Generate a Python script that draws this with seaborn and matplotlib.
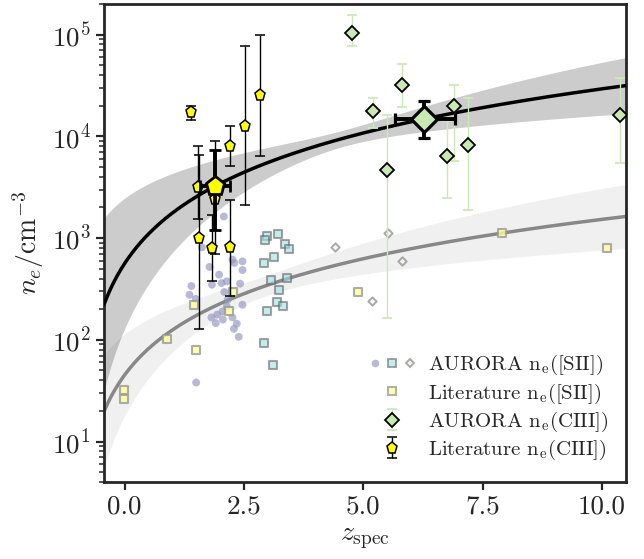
import numpy as np
import pandas as pd
import matplotlib
matplotlib.use("Agg")
import matplotlib.pyplot as plt
import matplotlib.ticker as mticker
import seaborn as sns
from matplotlib.lines import Line2D
from matplotlib.legend_handler import HandlerTuple

# ---------------- data ----------------
# AURORA [SII] densities (three sub-samples, different markers)
sii_circ_z = [2.08, 1.62, 2.26, 2.30, 2.47, 1.78, 2.47, 1.98, 2.03, 2.14, 1.83, 2.42, 1.40, 1.36, 2.09,
              1.49, 2.16, 2.47, 2.14, 2.05, 1.94, 1.82, 2.06, 2.26, 1.91, 2.35, 2.29, 2.39, 1.50]
sii_circ_ne = [1630, 811, 614, 569, 590, 520, 485, 437, 361, 375, 348, 356, 338, 277, 295,
               252, 248, 221, 213, 190, 177, 166, 158, 166, 146, 144, 128, 107, 38]
sii_sq_z = [2.98, 2.95, 3.22, 3.35, 3.44, 3.14, 2.91, 3.07, 3.40, 3.23, 3.19, 3.32, 2.98, 2.91, 3.10]
sii_sq_ne = [1057, 965, 1105, 881, 787, 656, 573, 390, 402, 306, 236, 216, 193, 94, 56]
sii_dia_z = [4.40, 5.51, 5.81, 5.18]
sii_dia_ne = [811, 1122, 600, 239]

# Literature [SII]
lit_sii_z = [2.28, 2.19, 1.46, 0.88, 1.49, -0.02, -0.02, 4.89, 7.90, 10.10]
lit_sii_ne = [295, 190, 221, 102, 80, 32, 26, 295, 1122, 800]

# AURORA CIII]
aur_c3_z = [4.77, 5.21, 5.82, 5.49, 6.75, 6.90, 7.20, 10.38]
aur_c3_ne = [104000, 17600, 32000, 4700, 6460, 19700, 8140, 16200]
aur_c3_lo = [76800, 12000, 19500, 165, 2500, 5740, 1900, 5500]
aur_c3_hi = [155000, 24000, 52000, 16300, 14300, 32300, 24000, 37500]

# Literature CIII]
lit_c3_z = [1.39, 1.54, 1.55, 1.89, 1.84, 2.21, 2.21, 2.52, 2.84]
lit_c3_ne = [17200, 3190, 1000, 2440, 800, 811, 8100, 12700, 25300]
lit_c3_lo = [14600, 1550, 128, 700, 380, 270, 5070, 2100, 6350]
lit_c3_hi = [20000, 8000, 6500, 9100, 1670, 2350, 12600, 76500, 100000]

# sample means
mean_lit_z, mean_lit_ne = 1.89, 3270
mean_lit_zerr = 0.31
mean_lit_lo, mean_lit_hi = 1210, 7400
mean_aur_z, mean_aur_ne = 6.28, 14800
mean_aur_zlo, mean_aur_zhi = 5.67, 6.91
mean_aur_lo, mean_aur_hi = 9650, 22400

# power-law fits n_e = A (1+z)^p, band parameters in dex
fit_c3 = dict(A=561.0, p=1.65, pivot=0.75, sig_a=0.08, sig_p=0.85)
fit_sii = dict(A=45.0, p=1.47, pivot=0.60, sig_a=0.10, sig_p=0.65)

x_ticks = [0.0, 2.5, 5.0, 7.5, 10.0]
labels = [r"AURORA $\mathrm{n_e}$([SII])", r"Literature $\mathrm{n_e}$([SII])",
          r"AURORA $\mathrm{n_e}$(CIII])", r"Literature $\mathrm{n_e}$(CIII])"]

# ---------------- style ----------------
sns.set_style("ticks")
plt.rcParams.update({
    "font.family": "serif",
    "font.serif": ["cmr10", "DejaVu Serif"],
    "mathtext.fontset": "cm",
    "axes.formatter.use_mathtext": True,
    "axes.unicode_minus": False,
})

GREEN = "#c8e8b4"
GREEN_ERR = "#c9eab8"
YELLOW = "#ffff00"
CIRC = "#9294c0"
SQ = "#9fe1e6"
YSQ = "#ffff99"

fig = plt.figure(figsize=(6.44, 5.59), dpi=100)
ax = fig.add_axes([104 / 644, 1 - 482 / 559, 522 / 644, 478 / 559])
ax.set_yscale("log")
xlim = (-0.43, 10.5)

zgrid = np.linspace(xlim[0], xlim[1], 400)
L = np.log10(1 + zgrid)


def model(f):
    c = np.log10(f["A"]) + f["p"] * L
    w = np.sqrt(f["sig_a"] ** 2 + (f["sig_p"] * (L - f["pivot"])) ** 2)
    return c, w


c1, w1 = model(fit_c3)
c2, w2 = model(fit_sii)
ax.fill_between(zgrid, 10 ** (c1 - w1), 10 ** (c1 + w1), color="k", alpha=0.2, lw=0, zorder=1)
ax.fill_between(zgrid, 10 ** (c2 - w2), 10 ** (c2 + w2), color="k", alpha=0.06, lw=0, zorder=1)
sns.lineplot(x=zgrid, y=10 ** c2, color="#888888", lw=2.5, ax=ax, zorder=2)
sns.lineplot(x=zgrid, y=10 ** c1, color="k", lw=2.5, ax=ax, zorder=3)

# [SII]
sns.scatterplot(x=sii_circ_z, y=sii_circ_ne, marker="o", s=32, color=CIRC, alpha=0.65,
                edgecolor="none", ax=ax, zorder=4)
sns.scatterplot(x=sii_sq_z, y=sii_sq_ne, marker="s", s=28, color=SQ, alpha=0.6,
                edgecolor="#666666", linewidth=1.5, ax=ax, zorder=4)
sns.scatterplot(x=sii_dia_z, y=sii_dia_ne, marker="D", s=18, color="#eef8e6", alpha=0.7,
                edgecolor="#888888", linewidth=1.4, ax=ax, zorder=4)
sns.scatterplot(x=lit_sii_z, y=lit_sii_ne, marker="s", s=28, color=YSQ, alpha=0.8,
                edgecolor="#999999", linewidth=1.5, ax=ax, zorder=4)

# AURORA CIII]
ane = np.array(aur_c3_ne)
h_aur = ax.errorbar(aur_c3_z, aur_c3_ne,
                    yerr=[ane - np.array(aur_c3_lo), np.array(aur_c3_hi) - ane],
                    fmt="D", ms=7, mfc=GREEN, mec="k", mew=1.3, ecolor=GREEN_ERR,
                    elinewidth=1.0, capsize=3.5, capthick=1.0, zorder=6)

# Literature CIII]
lne = np.array(lit_c3_ne)
h_lit = ax.errorbar(lit_c3_z, lit_c3_ne,
                    yerr=[lne - np.array(lit_c3_lo), np.array(lit_c3_hi) - lne],
                    fmt="p", ms=8.3, mfc=YELLOW, mec="k", mew=1.1, ecolor="k",
                    elinewidth=1.0, capsize=3.5, capthick=1.0, zorder=6)

# means
ax.errorbar([mean_lit_z], [mean_lit_ne], xerr=[[mean_lit_zerr], [mean_lit_zerr]],
            yerr=[[mean_lit_ne - mean_lit_lo], [mean_lit_hi - mean_lit_ne]],
            fmt="p", ms=14, mfc=YELLOW, mec="k", mew=2.0, ecolor="k",
            elinewidth=2.8, capsize=4, capthick=2.8, zorder=8)
ax.errorbar([mean_aur_z], [mean_aur_ne], xerr=[[mean_aur_z - mean_aur_zlo], [mean_aur_zhi - mean_aur_z]],
            yerr=[[mean_aur_ne - mean_aur_lo], [mean_aur_hi - mean_aur_ne]],
            fmt="D", ms=13, mfc=GREEN, mec="k", mew=2.3, ecolor="k",
            elinewidth=2.8, capsize=4, capthick=2.8, zorder=8)

ax.set_xlim(*xlim)
ax.set_ylim(4, 2.0e5)
ax.set_xticks(x_ticks)
ax.xaxis.set_major_formatter(mticker.FormatStrFormatter("%.1f"))
ax.set_xlabel(r"$z_{\rm spec}$", fontsize=20)
ax.set_ylabel(r"$n_e/\mathrm{cm}^{-3}$", fontsize=20)
for s in ax.spines.values():
    s.set_linewidth(2.0)
ax.tick_params(which="major", direction="out", length=6, width=1.6, labelsize=19.5)
ax.tick_params(which="minor", direction="out", length=3.5, width=1.1)
ax.tick_params(axis="x", which="minor", bottom=False)

hc = Line2D([], [], marker="o", ls="none", ms=5.5, mfc=CIRC, mec="none", alpha=0.65)
hs = Line2D([], [], marker="s", ls="none", ms=5.2, mfc=SQ, mec="#666666", mew=1.4, alpha=0.6)
hd = Line2D([], [], marker="D", ls="none", ms=4.2, mfc="#eef8e6", mec="#888888", mew=1.4, alpha=0.7)
hy = Line2D([], [], marker="s", ls="none", ms=5.2, mfc=YSQ, mec="#999999", mew=1.4, alpha=0.8)
leg = ax.legend([(hc, hs, hd), hy, h_aur, h_lit], labels, loc="lower right",
                bbox_to_anchor=(0.982, 0.024), borderaxespad=0, frameon=False, fontsize=15,
                handler_map={tuple: HandlerTuple(ndivide=None, pad=0.3)},
                handlelength=2.2, handletextpad=0.6, labelspacing=0.2)

fig.savefig("out.png", dpi=100)
